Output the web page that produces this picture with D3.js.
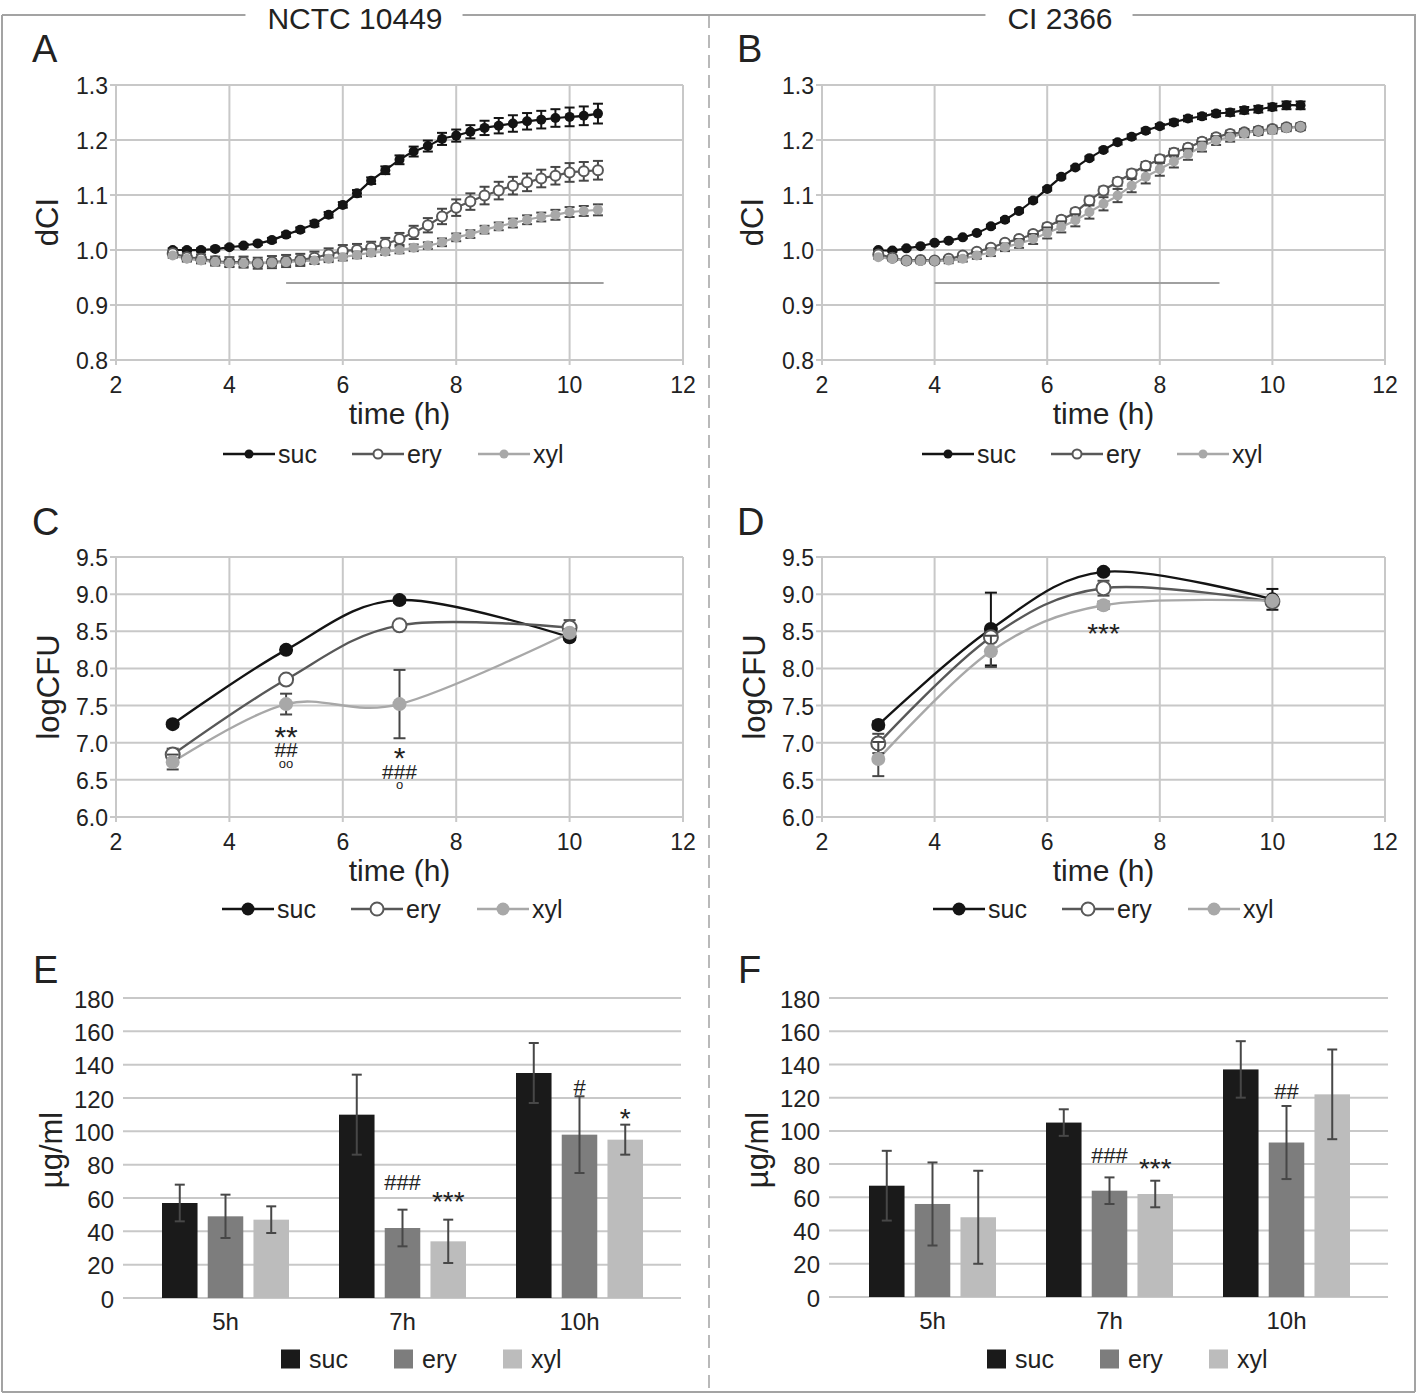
<!DOCTYPE html>
<html><head><meta charset="utf-8">
<script src="https://cdn.jsdelivr.net/npm/d3@7"></script>
<style>
body{margin:0;background:#fff}
svg{display:block}
text{font-family:"Liberation Sans",Arial,Helvetica,sans-serif;fill:#222}
</style>
</head><body>
<svg id="c" width="1418" height="1397"></svg>
<script>
// ---------- DATA ----------
const strainTitles = ["NCTC 10449", "CI 2366"];
const seriesNames = ["suc", "ery", "xyl"];

// dCI time points (h)
const timeDCI = [3,3.25,3.5,3.75,4,4.25,4.5,4.75,5,5.25,5.5,5.75,6,6.25,6.5,6.75,7,7.25,7.5,7.75,8,8.25,8.5,8.75,9,9.25,9.5,9.75,10,10.25,10.5];

// Panel A (NCTC 10449) dCI
const aSuc = [1.000,1.000,1.000,1.002,1.005,1.008,1.012,1.018,1.028,1.037,1.048,1.064,1.082,1.103,1.126,1.145,1.164,1.179,1.189,1.202,1.208,1.215,1.222,1.226,1.230,1.234,1.237,1.240,1.242,1.244,1.248];
const aSucErr = [0.003,0.003,0.003,0.003,0.003,0.003,0.003,0.004,0.004,0.004,0.005,0.005,0.005,0.006,0.006,0.007,0.008,0.009,0.010,0.011,0.011,0.012,0.013,0.014,0.015,0.015,0.016,0.016,0.017,0.017,0.018];
const aEry = [0.994,0.987,0.984,0.980,0.978,0.978,0.976,0.978,0.980,0.982,0.986,0.992,0.998,1.000,1.004,1.011,1.020,1.032,1.045,1.061,1.077,1.088,1.099,1.108,1.117,1.123,1.130,1.135,1.141,1.143,1.145];
const aEryErr = [0.004,0.006,0.008,0.008,0.009,0.010,0.010,0.011,0.011,0.011,0.011,0.011,0.011,0.011,0.011,0.011,0.011,0.012,0.013,0.014,0.015,0.015,0.016,0.016,0.016,0.016,0.016,0.016,0.017,0.017,0.017];
const aXyl = [0.990,0.984,0.981,0.978,0.976,0.976,0.976,0.977,0.978,0.980,0.981,0.984,0.987,0.991,0.995,0.997,1.000,1.004,1.008,1.014,1.023,1.029,1.037,1.043,1.049,1.055,1.060,1.064,1.069,1.071,1.073];
const aXylErr = [0.004,0.005,0.005,0.006,0.006,0.006,0.006,0.006,0.006,0.006,0.006,0.006,0.006,0.006,0.006,0.006,0.006,0.006,0.006,0.007,0.007,0.007,0.007,0.007,0.008,0.008,0.008,0.009,0.009,0.009,0.010];
const aRefLine = [5, 10.6, 0.94];   // [from h, to h, dCI]

// Panel B (CI 2366) dCI
const bSuc = [1.000,0.999,1.003,1.007,1.013,1.017,1.023,1.031,1.043,1.055,1.071,1.090,1.111,1.133,1.150,1.167,1.182,1.196,1.206,1.217,1.225,1.232,1.239,1.243,1.248,1.250,1.254,1.256,1.260,1.263,1.263];
const bSucErr = [0.002,0.002,0.002,0.002,0.002,0.002,0.002,0.002,0.003,0.003,0.003,0.003,0.003,0.003,0.003,0.003,0.003,0.004,0.004,0.004,0.004,0.005,0.005,0.005,0.005,0.006,0.006,0.006,0.006,0.007,0.007];
const bEry = [0.992,0.986,0.981,0.982,0.981,0.984,0.990,0.997,1.004,1.013,1.020,1.029,1.042,1.055,1.069,1.090,1.108,1.124,1.139,1.153,1.165,1.177,1.186,1.197,1.205,1.211,1.214,1.217,1.220,1.223,1.224];
const bEryErr = [0.003,0.003,0.003,0.003,0.003,0.003,0.004,0.004,0.004,0.005,0.005,0.005,0.006,0.006,0.006,0.007,0.007,0.007,0.007,0.007,0.007,0.007,0.006,0.006,0.006,0.006,0.006,0.006,0.006,0.006,0.006];
const bXyl = [0.987,0.984,0.980,0.980,0.980,0.981,0.984,0.990,0.996,1.005,1.012,1.020,1.031,1.042,1.054,1.069,1.084,1.099,1.117,1.133,1.147,1.161,1.174,1.188,1.199,1.205,1.212,1.216,1.218,1.222,1.224];
const bXylErr = [0.003,0.003,0.004,0.004,0.004,0.005,0.005,0.006,0.007,0.007,0.008,0.009,0.010,0.010,0.011,0.012,0.012,0.012,0.012,0.012,0.012,0.011,0.010,0.009,0.008,0.008,0.007,0.007,0.006,0.006,0.006];
const bRefLine = [4, 9.06, 0.94];

// logCFU time points (h)
const timeCFU = [3, 5, 7, 10];
const cSuc = [7.25, 8.25, 8.92, 8.42];  const cSucErr = [0.04, 0.04, 0.04, 0.04];
const cEry = [6.84, 7.85, 8.58, 8.55];  const cEryErr = [0.08, 0.03, 0.03, 0.10];
const cXyl = [6.74, 7.52, 7.52, 8.48];  const cXylErr = [0.10, 0.14, 0.46, 0.05];
const dSuc = [7.24, 8.53, 9.30, 8.93];  const dSucErr = [0.05, 0.49, 0.04, 0.14];
const dEry = [6.99, 8.42, 9.08, 8.90];  const dEryErr = [0.13, 0.05, 0.10, 0.05];
const dXyl = [6.78, 8.23, 8.85, 8.91];  const dXylErr = [0.23, 0.21, 0.05, 0.05];
// significance marks: [time, logCFU, text, size]
const cMarks = [[5,7.17,"**",30],[5,6.91,"##",21],[5,6.71,"oo",13],[7,6.88,"*",30],[7,6.62,"###",21],[7,6.42,"o",13]];
const dMarks = [[7,8.56,"***",28]];

// µg/ml bars
const barCats = ["5h", "7h", "10h"];
const eSuc = [57, 110, 135];  const eSucErr = [11, 24, 18];
const eEry = [49, 42, 98];    const eEryErr = [13, 11, 23];
const eXyl = [47, 34, 95];    const eXylErr = [8, 13, 9];
const fSuc = [67, 105, 137];  const fSucErr = [21, 8, 17];
const fEry = [56, 64, 93];    const fEryErr = [25, 8, 22];
const fXyl = [48, 62, 122];   const fXylErr = [28, 8, 27];
// [category, series, value, text]
const eMarks = [["7h","ery",69.6,"###"],["7h","xyl",61.8,"***"],["10h","ery",126.6,"#"],["10h","xyl",111.6,"*"]];
const fMarks = [["7h","ery",85.5,"###"],["7h","xyl",81.3,"***"],["10h","ery",124,"##"]];

const xTicksLine = [2,4,6,8,10,12];
const yTicksDCI = [0.8,0.9,1.0,1.1,1.2,1.3];
const yTicksCFU = [6.0,6.5,7.0,7.5,8.0,8.5,9.0,9.5];
const yTicksBar = [0,20,40,60,80,100,120,140,160,180];

// ---------- STYLE ----------
const svg = d3.select("#c");
const GRID = "#c8c8c8";
const FRAME = "#a3a3a3";
const COL = {suc:"#141414", ery:"#585858", xyl:"#a8a8a8"};
const BARCOL = {suc:"#1a1a1a", ery:"#7d7d7d", xyl:"#bcbcbc"};
const ERRC = "#474747";

// ---------- FRAME ----------
const fr = svg.append("g");
const titleCenters = [355, 1060];
const gaps = [];
strainTitles.forEach((t,i)=>{
  const tx = fr.append("text").attr("x",titleCenters[i]).attr("y",18)
    .attr("text-anchor","middle").attr("dominant-baseline","central")
    .attr("font-size",30).attr("fill","#1e1e1e").text(t);
  const w = tx.node().getComputedTextLength();
  gaps.push([titleCenters[i]-w/2-22, titleCenters[i]+w/2+20]);
});
const topSegs = [[2,gaps[0][0]],[gaps[0][1],gaps[1][0]],[gaps[1][1],1416]];
topSegs.forEach(s=>fr.append("line").attr("x1",s[0]).attr("x2",s[1]).attr("y1",15).attr("y2",15).attr("stroke",FRAME).attr("stroke-width",2));
fr.append("line").attr("x1",2).attr("x2",2).attr("y1",15).attr("y2",1392).attr("stroke",FRAME).attr("stroke-width",2);
fr.append("line").attr("x1",1415).attr("x2",1415).attr("y1",15).attr("y2",1392).attr("stroke",FRAME).attr("stroke-width",2);
fr.append("line").attr("x1",2).attr("x2",1415).attr("y1",1392).attr("y2",1392).attr("stroke",FRAME).attr("stroke-width",2);
fr.append("line").attr("x1",709).attr("x2",709).attr("y1",15).attr("y2",1392).attr("stroke",FRAME).attr("stroke-width",1.5).attr("stroke-dasharray","13,7");

function letter(t,x,y){
  svg.append("text").attr("x",x).attr("y",y).attr("font-size",38).attr("fill","#1e1e1e").text(t);
}
function yTitle(t,x,y){
  svg.append("text").attr("transform",`translate(${x},${y}) rotate(-90)`).attr("text-anchor","middle")
    .attr("dominant-baseline","central").attr("font-size",31).text(t);
}
function markOffset(txt, sz){
  if(txt[0]==="*") return 0.56*sz;
  if(txt[0]==="#") return 0.36*sz;
  return 0.27*sz;
}

// ---------- LINE PANELS ----------
function linePanel(cfg){
  const g = svg.append("g");
  const x = d3.scaleLinear().domain([2,12]).range([cfg.x0,cfg.x1]);
  const y = d3.scaleLinear().domain([cfg.yTicks[0], cfg.yTicks[cfg.yTicks.length-1]]).range([cfg.yb,cfg.yt]);
  g.selectAll(null).data(xTicksLine).join("line")
    .attr("x1",d=>x(d)).attr("x2",d=>x(d)).attr("y1",cfg.yb+5).attr("y2",cfg.yt)
    .attr("stroke",GRID).attr("stroke-width",2);
  g.selectAll(null).data(cfg.yTicks).join("line")
    .attr("x1",cfg.x0-6).attr("x2",cfg.x1).attr("y1",d=>y(d)).attr("y2",d=>y(d))
    .attr("stroke",GRID).attr("stroke-width",2);
  g.selectAll(null).data(cfg.yTicks).join("text")
    .attr("x",cfg.x0-8).attr("y",d=>y(d)+1).attr("text-anchor","end").attr("dominant-baseline","central")
    .attr("font-size",23).text(d=>d.toFixed(1));
  g.selectAll(null).data(xTicksLine).join("text")
    .attr("x",d=>x(d)).attr("y",cfg.yb+25).attr("text-anchor","middle").attr("dominant-baseline","central")
    .attr("font-size",23).text(d=>d);
  g.append("text").attr("x",(cfg.x0+cfg.x1)/2).attr("y",cfg.yb+53).attr("text-anchor","middle")
    .attr("dominant-baseline","central").attr("font-size",30).text("time (h)");
  if(cfg.ref){
    g.append("line").attr("x1",x(cfg.ref[0])).attr("x2",x(cfg.ref[1]))
      .attr("y1",y(cfg.ref[2])).attr("y2",y(cfg.ref[2])).attr("stroke","#a0a0a0").attr("stroke-width",2);
  }
  const line = d3.line().x(d=>x(d.t)).y(d=>y(d.v)).curve(d3.curveCardinal.tension(0));
  const all = cfg.series.map(s=>cfg.t.map((t,i)=>({t, v:s.v[i], e:s.e[i]})));
  cfg.series.forEach((s,k)=>{
    g.append("path").datum(all[k]).attr("d",line).attr("fill","none")
      .attr("stroke",COL[s.name]).attr("stroke-width",cfg.lw);
  });
  cfg.series.forEach((s,k)=>{
    const pts = all[k];
    const ec = s.name==="suc" ? "#141414" : ERRC;
    const eg = g.append("g").attr("stroke",ec).attr("stroke-width",2);
    eg.selectAll(null).data(pts).join("line")
      .attr("x1",d=>x(d.t)).attr("x2",d=>x(d.t)).attr("y1",d=>y(d.v-d.e)).attr("y2",d=>y(d.v+d.e));
    eg.selectAll(null).data(pts.flatMap(d=>[d.v-d.e,d.v+d.e].map(v=>({t:d.t,v})))).join("line")
      .attr("x1",d=>x(d.t)-cfg.cap).attr("x2",d=>x(d.t)+cfg.cap).attr("y1",d=>y(d.v)).attr("y2",d=>y(d.v));
    g.selectAll(null).data(pts).join("circle")
      .attr("cx",d=>x(d.t)).attr("cy",d=>y(d.v)).attr("r",cfg.r)
      .attr("fill",s.name==="ery" ? "#fff" : COL[s.name])
      .attr("stroke",s.name==="ery" ? COL.ery : "none").attr("stroke-width",2);
  });
  if(cfg.marks){
    cfg.marks.forEach(m=>{
      const sz = m[3];
      g.append("text").attr("x",x(m[0])).attr("y",y(m[1])+markOffset(m[2],sz)).attr("text-anchor","middle")
        .attr("font-size",sz).attr("fill","#1e1e1e").text(m[2]);
    });
  }
  // legend
  const lg = g.append("g");
  const stepX = [0,129,255];
  cfg.series.forEach((s,k)=>{
    const lx = cfg.legX + stepX[k];
    lg.append("line").attr("x1",lx).attr("x2",lx+52).attr("y1",cfg.legY).attr("y2",cfg.legY)
      .attr("stroke",COL[s.name]).attr("stroke-width",2.5);
    lg.append("circle").attr("cx",lx+26).attr("cy",cfg.legY).attr("r",cfg.legR)
      .attr("fill",s.name==="ery" ? "#fff" : COL[s.name])
      .attr("stroke",s.name==="ery" ? COL.ery : "none").attr("stroke-width",2);
    lg.append("text").attr("x",lx+55).attr("y",cfg.legY).attr("dominant-baseline","central")
      .attr("font-size",25).text(s.name);
  });
}

linePanel({x0:116,x1:683,yb:360,yt:85,yTicks:yTicksDCI,t:timeDCI,lw:2.2,r:5,cap:5,ref:aRefLine,
  series:[{name:"suc",v:aSuc,e:aSucErr},{name:"ery",v:aEry,e:aEryErr},{name:"xyl",v:aXyl,e:aXylErr}],
  legX:223,legY:454,legR:4.5});
linePanel({x0:822,x1:1385,yb:360,yt:85,yTicks:yTicksDCI,t:timeDCI,lw:2.2,r:5,cap:5,ref:bRefLine,
  series:[{name:"suc",v:bSuc,e:bSucErr},{name:"ery",v:bEry,e:bEryErr},{name:"xyl",v:bXyl,e:bXylErr}],
  legX:922,legY:454,legR:4.5});
linePanel({x0:116,x1:683,yb:817,yt:557,yTicks:yTicksCFU,t:timeCFU,lw:2.4,r:7,cap:6,marks:cMarks,
  series:[{name:"suc",v:cSuc,e:cSucErr},{name:"ery",v:cEry,e:cEryErr},{name:"xyl",v:cXyl,e:cXylErr}],
  legX:222,legY:909,legR:6.5});
linePanel({x0:822,x1:1385,yb:817,yt:557,yTicks:yTicksCFU,t:timeCFU,lw:2.4,r:7,cap:6,marks:dMarks,
  series:[{name:"suc",v:dSuc,e:dSucErr},{name:"ery",v:dEry,e:dEryErr},{name:"xyl",v:dXyl,e:dXylErr}],
  legX:933,legY:909,legR:6.5});

// ---------- BAR PANELS ----------
function barPanel(cfg){
  const g = svg.append("g");
  const y = d3.scaleLinear().domain([0,180]).range([cfg.yb,cfg.yt]);
  const x = d3.scaleBand().domain(barCats).range([cfg.bx0,cfg.bx1]).padding(0);
  const xi = d3.scaleBand().domain(seriesNames).range([0,127]).paddingInner(0.223).paddingOuter(0);
  const off = (x.bandwidth()-127)/2;
  g.selectAll(null).data(yTicksBar).join("line")
    .attr("x1",cfg.gx0).attr("x2",cfg.gx1).attr("y1",d=>y(d)).attr("y2",d=>y(d))
    .attr("stroke",GRID).attr("stroke-width",2);
  g.selectAll(null).data(yTicksBar).join("text")
    .attr("x",cfg.gx0-9).attr("y",d=>y(d)+1).attr("text-anchor","end").attr("dominant-baseline","central")
    .attr("font-size",24).text(d=>d);
  g.selectAll(null).data(barCats).join("text")
    .attr("x",d=>x(d)+x.bandwidth()/2).attr("y",cfg.yb+23).attr("text-anchor","middle")
    .attr("dominant-baseline","central").attr("font-size",24).text(d=>d);
  const recs = [];
  cfg.series.forEach(s=>barCats.forEach((c,i)=>recs.push({c, s:s.name, v:s.v[i], e:s.e[i]})));
  const bx = d=>x(d.c)+off+xi(d.s);
  g.selectAll(null).data(recs).join("rect")
    .attr("x",bx).attr("width",xi.bandwidth()).attr("y",d=>y(d.v)).attr("height",d=>y(0)-y(d.v))
    .attr("fill",d=>BARCOL[d.s]);
  const eg = g.append("g").attr("stroke",ERRC).attr("stroke-width",2);
  eg.selectAll(null).data(recs).join("line")
    .attr("x1",d=>bx(d)+xi.bandwidth()/2).attr("x2",d=>bx(d)+xi.bandwidth()/2)
    .attr("y1",d=>y(d.v-d.e)).attr("y2",d=>y(d.v+d.e));
  eg.selectAll(null).data(recs.flatMap(d=>[d.v-d.e,d.v+d.e].map(v=>({c:d.c,s:d.s,v})))).join("line")
    .attr("x1",d=>bx(d)+xi.bandwidth()/2-5).attr("x2",d=>bx(d)+xi.bandwidth()/2+5)
    .attr("y1",d=>y(d.v)).attr("y2",d=>y(d.v));
  cfg.marks.forEach(m=>{
    const sz = m[3][0]==="*" ? 28 : 22;
    g.append("text").attr("x",x(m[0])+off+xi(m[1])+xi.bandwidth()/2).attr("y",y(m[2])+markOffset(m[3],sz))
      .attr("text-anchor","middle").attr("font-size",sz).attr("fill","#1e1e1e").text(m[3]);
  });
  const stepX = [0,113,222];
  cfg.series.forEach((s,k)=>{
    const lx = cfg.legX + stepX[k];
    g.append("rect").attr("x",lx).attr("y",cfg.legY-9.5).attr("width",19).attr("height",19).attr("fill",BARCOL[s.name]);
    g.append("text").attr("x",lx+28).attr("y",cfg.legY).attr("dominant-baseline","central")
      .attr("font-size",25).text(s.name);
  });
}

barPanel({gx0:123,gx1:681,bx0:137,bx1:668,yb:1298,yt:998,marks:eMarks,legX:281,legY:1359,
  series:[{name:"suc",v:eSuc,e:eSucErr},{name:"ery",v:eEry,e:eEryErr},{name:"xyl",v:eXyl,e:eXylErr}]});
barPanel({gx0:829,gx1:1388,bx0:844,bx1:1375,yb:1297,yt:998,marks:fMarks,legX:987,legY:1359,
  series:[{name:"suc",v:fSuc,e:fSucErr},{name:"ery",v:fEry,e:fEryErr},{name:"xyl",v:fXyl,e:fXylErr}]});

// ---------- LETTERS & AXIS TITLES ----------
letter("A",32,62); letter("B",737,62);
letter("C",32,535); letter("D",737,535);
letter("E",33,983); letter("F",738,983);
yTitle("dCI",47,222); yTitle("dCI",752,222);
yTitle("logCFU",48,687); yTitle("logCFU",754,687);
yTitle("µg/ml",51,1150); yTitle("µg/ml",757,1150);
</script>
</body></html>
